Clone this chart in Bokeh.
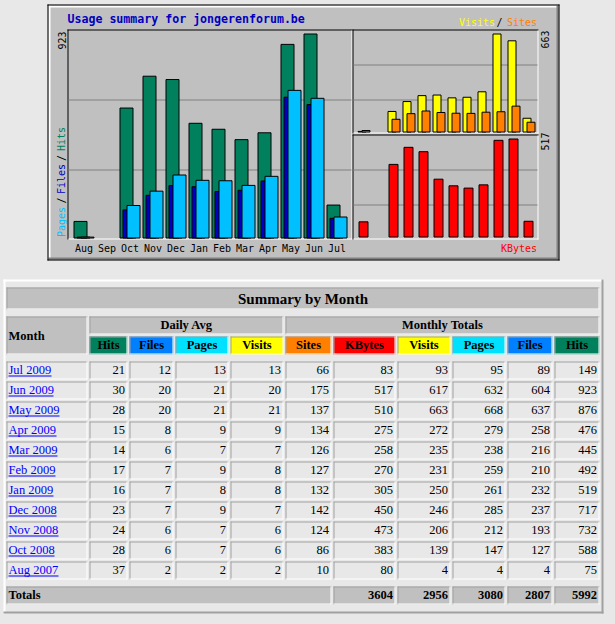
import math
from bokeh.plotting import figure
from bokeh.models import Range1d, ColumnDataSource
from bokeh.core.properties import value, field
from bokeh.embed import file_html
from bokeh.resources import INLINE

# ---------------- data ----------------
table_months = ["Jul 2009", "Jun 2009", "May 2009", "Apr 2009", "Mar 2009", "Feb 2009",
                "Jan 2009", "Dec 2008", "Nov 2008", "Oct 2008", "Aug 2007"]
avg_hits   = [21, 30, 28, 15, 14, 17, 16, 23, 24, 28, 37]
avg_files  = [12, 20, 20, 8, 6, 7, 7, 7, 6, 6, 2]
avg_pages  = [13, 21, 21, 9, 7, 9, 8, 9, 7, 7, 2]
avg_visits = [13, 20, 21, 9, 7, 8, 8, 7, 6, 6, 2]
tot_sites  = [66, 175, 137, 134, 126, 127, 132, 142, 124, 86, 10]
tot_kbytes = [83, 517, 510, 275, 258, 270, 305, 450, 473, 383, 80]
tot_visits = [93, 617, 663, 272, 235, 231, 250, 246, 206, 139, 4]
tot_pages  = [95, 632, 668, 279, 238, 259, 261, 285, 212, 147, 4]
tot_files  = [89, 604, 637, 258, 216, 210, 232, 237, 193, 127, 4]
tot_hits   = [149, 923, 876, 476, 445, 492, 519, 717, 732, 588, 75]
grand_totals = [3604, 2956, 3080, 2807, 5992]   # KBytes, Visits, Pages, Files, Hits

chart_months = ["Aug", "Sep", "Oct", "Nov", "Dec", "Jan", "Feb", "Mar", "Apr", "May", "Jun", "Jul"]
header_labels = ["Hits", "Files", "Pages", "Visits", "Sites", "KBytes", "Visits", "Pages", "Files", "Hits"]
chart_title = "Usage summary for jongerenforum.be"
table_title = "Summary by Month"


def chart_series(col):
    out = []
    for m in chart_months:
        v = 0
        for tm, tv in zip(table_months, col):
            if tm.startswith(m):
                v = tv
                break
        out.append(v)
    return out


c_hits = chart_series(tot_hits)
c_files = chart_series(tot_files)
c_pages = chart_series(tot_pages)
c_visits = chart_series(tot_visits)
c_sites = chart_series(tot_sites)
c_kbytes = chart_series(tot_kbytes)

# ---------------- styles ----------------
BG = "#e8e8e8"
GREY = "#c0c0c0"
DKGREY = "#808080"
CELL_DARK = "#a0a0a0"
HIT = "#00805c"
FILE_T = "#0080ff"
PAGE_T = "#00e0ff"
VISIT = "#ffff00"
SITE = "#ff8000"
KBYTE = "#ff0000"
FILE_C = "#0000c0"
PAGE_C = "#00c0ff"
TITLE_BLUE = "#0000c0"
LINK = "#0000ff"
header_colors = [HIT, FILE_T, PAGE_T, VISIT, SITE, KBYTE, VISIT, PAGE_T, FILE_T, HIT]

W, H = 615, 624
p = figure(width=W, height=H, output_backend="svg", toolbar_location=None,
           x_range=Range1d(0, W), y_range=Range1d(H, 0),
           x_axis_type=None, y_axis_type=None, min_border=0)
p.outline_line_color = None
p.background_fill_color = BG
p.border_fill_color = BG
p.grid.visible = False

try:
    from bokeh.models import GlobalInlineStyleSheet
    p.stylesheets = [GlobalInlineStyleSheet(
        css="html, body { margin: 0; padding: 0; overflow: hidden; background-color: #e8e8e8; }")]
except Exception:
    pass


def lin(a_p, a_v, b_p, b_v, lo_p, hi_p):
    k = (b_v - a_v) / (b_p - a_p)
    return Range1d(start=a_v + (lo_p - a_p) * k, end=a_v + (hi_p - a_p) * k)


p.extra_x_ranges = {
    "hx": lin(73.5, 0, 96.5, 1, 0, W),
    "vx": lin(357.5, 0, 372.5, 1, 0, W),
}
p.extra_y_ranges = {
    "hy": lin(237.5, 0, 33.5, max(c_hits), H, 0),
    "vy": lin(131.5, 0, 33.5, max(c_visits), H, 0),
    "ky": lin(236.5, 0, 138.5, max(c_kbytes), H, 0),
}

R = {"l": [], "r": [], "t": [], "b": [], "c": []}


def box(x0, y0, x1, y1, color):
    R["l"].append(x0); R["r"].append(x1)
    R["t"].append(y0); R["b"].append(y1); R["c"].append(color)


# ---- chart image frame ----
box(47, 4, 559, 260, GREY)
box(48, 5, 558, 7, "white"); box(48, 5, 50, 258, "white")
box(48, 257, 558, 259, DKGREY); box(556, 5, 558, 259, DKGREY)
box(47, 4, 559, 5, "black"); box(47, 259, 559, 260, "black")
box(47, 4, 48, 260, "black"); box(558, 4, 559, 260, "black")


def panel(x0, y0, x1, y1):
    box(x0, y0, x1 + 1, y0 + 1, "black"); box(x0, y0, x0 + 1, y1 + 1, "black")
    box(x0 + 1, y1, x1 + 1, y1 + 1, "white"); box(x1, y0 + 1, x1 + 1, y1 + 1, "white")


panel(67, 29, 351, 238)
panel(352, 29, 537, 132)
panel(352, 134, 537, 238)
for r in (99, 169):
    box(68, r, 351, r + 1, DKGREY)
for r in (64, 99, 169, 204):
    box(353, r, 537, r + 1, DKGREY)

# ---- table ----
cols = [(6, 87), (89, 127), (129, 173), (175, 228), (230, 283), (285, 331),
        (333, 395), (397, 450), (452, 505), (507, 552), (554, 599)]

box(3, 279, 603, 281, "white"); box(3, 279, 5, 613, "white")
box(3, 611, 603, 613, CELL_DARK); box(601, 279, 603, 613, CELL_DARK)


def cell(x0, x1, y0, y1, fill):
    box(x0, y0, x1, y1, fill)
    box(x0, y0, x1, y0 + 1, CELL_DARK)
    box(x0, y0, x0 + 1, y1, CELL_DARK)
    box(x0, y1 - 1, x1, y1, "white")
    box(x1 - 1, y0, x1, y1, "white")


TXT = []
BASE_K = 0.36   # empirical correction of the rendered alphabetic baseline


def T(px, py, s, color="black", font="Liberation Serif", size=12.5, bold=False, align="left", angle=0.0):
    if angle:
        px -= BASE_K * size
    else:
        py -= BASE_K * size
    TXT.append(dict(x=px, y=py, text=s, color=color, font=font, size=size,
                    bold=bold, align=align, angle=angle))


TW = {"0": .5, "1": .5, "2": .5, "3": .5, "4": .5, "5": .5, "6": .5, "7": .5, "8": .5, "9": .5,
      " ": .25, "J": .389, "u": .5, "l": .278, "n": .5, "M": .889, "a": .444, "y": .5,
      "A": .722, "p": .5, "r": .333, "F": .556, "e": .444, "b": .5, "D": .722, "c": .444,
      "N": .722, "o": .5, "v": .5, "O": .722, "t": .278, "g": .5}


def tw(s, size=12.5):
    return sum(TW.get(ch, .5) for ch in s) * size


# title row
cell(6, 599, 287, 309, GREY)
T(302.5, 304, table_title, size=15, bold=True, align="center")
# header rows
cell(6, 87, 316, 354, GREY)
T(8, 339.5, "Month", bold=True)
cell(89, 283, 316, 334, GREY)
T(186, 329, "Daily Avg", bold=True, align="center")
cell(285, 599, 316, 334, GREY)
T(442, 329, "Monthly Totals", bold=True, align="center")
for (x0, x1), lab, colr in zip(cols[1:], header_labels, header_colors):
    cell(x0, x1, 336, 354, colr)
    T((x0 + x1) / 2, 349, lab, bold=True, align="center")

# data rows
rows = list(zip(table_months, avg_hits, avg_files, avg_pages, avg_visits, tot_sites,
                tot_kbytes, tot_visits, tot_pages, tot_files, tot_hits))
for i, row in enumerate(rows):
    y0 = 361 + 20 * i
    for j, (x0, x1) in enumerate(cols):
        cell(x0, x1, y0, y0 + 18, BG)
    T(8, y0 + 13, row[0], color=LINK)
    box(8, y0 + 14, 8 + round(tw(row[0])), y0 + 15, LINK)
    for j, v in enumerate(row[1:], start=1):
        T(cols[j][1] - 2.5, y0 + 13, str(v), align="right")

# totals row
cell(6, 331, 586, 604, GREY)
T(8, 599, "Totals", bold=True)
for (x0, x1), v in zip(cols[6:], grand_totals):
    cell(x0, x1, 586, 604, GREY)
    T(x1 - 2.5, 599, str(v), bold=True, align="right")

p.quad(left="l", right="r", top="t", bottom="b", fill_color="c", line_color=None,
       source=ColumnDataSource(R))


# ---- bars ----
def bars(vals, o0, o1, unit, xr, yr, color):
    L, Rr, Tp = [], [], []
    for i, v in enumerate(vals):
        if v > 0:
            L.append(i + o0 / unit); Rr.append(i + o1 / unit); Tp.append(v)
    p.quad(left=L, right=Rr, bottom=[0] * len(L), top=Tp, x_range_name=xr, y_range_name=yr,
           fill_color=color, line_color="black", line_width=1)


bars(c_hits, 0, 13, 23, "hx", "hy", HIT)
bars(c_files, 3, 16, 23, "hx", "hy", FILE_C)
bars(c_pages, 7, 20, 23, "hx", "hy", PAGE_C)
bars(c_visits, 0, 8, 15, "vx", "vy", VISIT)
bars(c_sites, 4, 12, 15, "vx", "vy", SITE)
bars(c_kbytes, 1, 10, 15, "vx", "ky", KBYTE)

# month labels along the hits axis
p.text(x=[i + 10 / 23 for i in range(len(chart_months))], y=[251.5 - BASE_K * 10] * len(chart_months),
       text=chart_months, x_range_name="hx", text_align="center", text_baseline="alphabetic",
       text_font=value("DejaVu Sans Mono"), text_font_size="10px", text_color="black")

# chart texts
MONO = "DejaVu Sans Mono"
T(67, 22.5, chart_title, color=TITLE_BLUE, font=MONO, size=11.6, bold=True)
T(536.5, 25.5, "Sites", color=SITE, font=MONO, size=10, align="right")
T(499, 25.5, "/", color="black", font=MONO, size=10, align="center")
T(494.5, 25.5, "Visits", color=VISIT, font=MONO, size=10, align="right")
T(536.5, 252, "KBytes", color=KBYTE, font=MONO, size=10, align="right")
A = math.pi / 2
T(65.5, 40, str(max(c_hits)), font=MONO, size=10, align="center", angle=A)
T(548.5, 39, str(max(c_visits)), font=MONO, size=10, align="center", angle=A)
T(548.5, 141, str(max(c_kbytes)), font=MONO, size=10, align="center", angle=A)
T(64.5, 221.5, "Pages", color=PAGE_C, font=MONO, size=10, align="center", angle=A)
T(64.5, 200, "/", color="black", font=MONO, size=10, align="center", angle=A)
T(64.5, 178.5, "Files", color=FILE_C, font=MONO, size=10, align="center", angle=A)
T(64.5, 157.5, "/", color="black", font=MONO, size=10, align="center", angle=A)
T(64.5, 138.5, "Hits", color=HIT, font=MONO, size=10, align="center", angle=A)

groups = {}
for t in TXT:
    groups.setdefault((t["font"], t["size"], t["bold"], t["angle"]), []).append(t)
for (font, size, bold, angle), items in groups.items():
    src = ColumnDataSource(dict(x=[t["x"] for t in items], y=[t["y"] for t in items],
                                text=[t["text"] for t in items], color=[t["color"] for t in items],
                                align=[t["align"] for t in items]))
    p.text(x="x", y="y", text="text", source=src, text_color=field("color"),
           text_align=field("align"), text_baseline="alphabetic", angle=angle,
           text_font=value(font), text_font_size=f"{size}px",
           text_font_style="bold" if bold else "normal")

open("out.html", "w").write(file_html(p, INLINE))
